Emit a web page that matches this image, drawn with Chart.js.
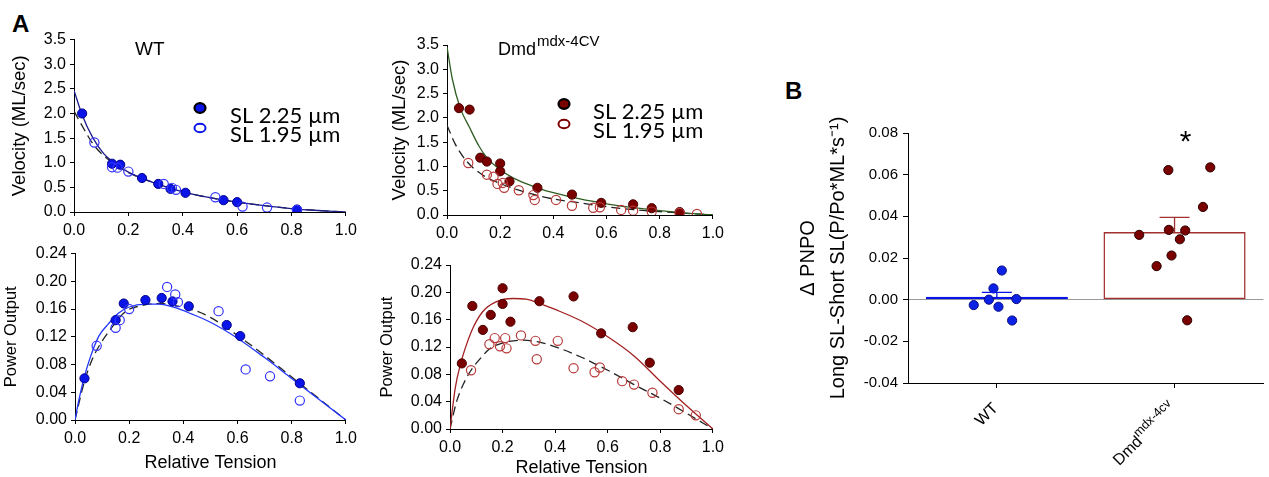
<!DOCTYPE html>
<html>
<head>
<meta charset="utf-8">
<script src="https://cdn.jsdelivr.net/npm/chart.js@4.4.1/dist/chart.umd.min.js"></script>
<style>
  html, body { margin: 0; padding: 0; background: #fff; }
  body { width: 1269px; height: 477px; position: relative; overflow: hidden; font-family: "Liberation Sans", Arial, sans-serif; color: #000; }
  .box { position: absolute; }
  .box canvas { display: block; }
  .panel { position: absolute; font-weight: bold; font-size: 24px; line-height: 1; }
</style>
</head>
<body>
<div class="panel" style="left:12px;top:12px">A</div>
<div class="panel" style="left:785px;top:79px">B</div>
<div class="box" id="b1" style="left:0;top:26px;width:362px;height:222px"><canvas id="c1"></canvas></div>
<div class="box" id="b2" style="left:0;top:240px;width:362px;height:237px"><canvas id="c2"></canvas></div>
<div class="box" id="b3" style="left:372px;top:30px;width:357px;height:218px"><canvas id="c3"></canvas></div>
<div class="box" id="b4" style="left:372px;top:250px;width:357px;height:227px"><canvas id="c4"></canvas></div>
<div class="box" id="b5" style="left:770px;top:110px;width:499px;height:367px"><canvas id="c5"></canvas></div>
<script>
// ---- WT: velocity vs relative tension ----
const wtVelLongT = [0.03, 0.14, 0.17, 0.25, 0.31, 0.355, 0.41, 0.55, 0.60, 0.82];
const wtVelLongV = [2.0, 0.98, 0.96, 0.69, 0.57, 0.47, 0.39, 0.24, 0.20, 0.05];
const wtVelShortT = [0.075, 0.14, 0.16, 0.20, 0.33, 0.36, 0.375, 0.52, 0.62, 0.71, 0.82];
const wtVelShortV = [1.41, 0.91, 0.90, 0.82, 0.57, 0.49, 0.45, 0.30, 0.11, 0.09, 0.04];
const wtVelFitLongT = [0, 0.03, 0.07, 0.11, 0.15, 0.2, 0.25, 0.3, 0.4, 0.5, 0.6, 0.7, 0.8, 0.9, 1.0];
const wtVelFitLongV = [2.47, 1.97, 1.5, 1.18, 0.99, 0.81, 0.69, 0.58, 0.41, 0.29, 0.2, 0.13, 0.07, 0.03, 0];
const wtVelFitShortT = [0, 0.035, 0.07, 0.11, 0.15, 0.2, 0.25, 0.3, 0.4, 0.5, 0.6, 0.7, 0.8, 0.9, 1.0];
const wtVelFitShortV = [2.05, 1.7, 1.38, 1.14, 0.97, 0.8, 0.68, 0.58, 0.41, 0.29, 0.2, 0.13, 0.07, 0.03, 0];

// ---- WT: power output ----
const wtPowLongT = [0.035, 0.15, 0.18, 0.26, 0.32, 0.36, 0.42, 0.56, 0.61, 0.83];
const wtPowLongP = [0.060, 0.144, 0.168, 0.173, 0.176, 0.171, 0.164, 0.137, 0.121, 0.053];
const wtPowShortT = [0.08, 0.15, 0.165, 0.20, 0.34, 0.37, 0.38, 0.53, 0.63, 0.72, 0.83];
const wtPowShortP = [0.107, 0.133, 0.144, 0.160, 0.192, 0.181, 0.170, 0.157, 0.073, 0.063, 0.028];
const wtPowFitLongT = [0, 0.015, 0.033, 0.057, 0.088, 0.124, 0.16, 0.2, 0.26, 0.31, 0.37, 0.43, 0.5, 0.6, 0.7, 0.8, 0.9, 1.0];
const wtPowFitLongP = [0, 0.03, 0.06, 0.091, 0.121, 0.139, 0.154, 0.163, 0.167, 0.167, 0.162, 0.153, 0.141, 0.118, 0.09, 0.06, 0.03, 0];
const wtPowFitShortT = [0, 0.033, 0.063, 0.094, 0.137, 0.185, 0.246, 0.31, 0.37, 0.45, 0.5, 0.6, 0.7, 0.8, 0.9, 1.0];
const wtPowFitShortP = [0, 0.053, 0.087, 0.11, 0.134, 0.156, 0.165, 0.168, 0.165, 0.157, 0.148, 0.122, 0.093, 0.062, 0.031, 0];

// ---- Dmd mdx-4CV: velocity ----
const dmdVelLongT = [0.045, 0.085, 0.125, 0.15, 0.2, 0.2, 0.235, 0.34, 0.47, 0.58, 0.70, 0.77, 0.875];
const dmdVelLongV = [2.2, 2.17, 1.18, 1.1, 1.06, 0.9, 0.69, 0.56, 0.42, 0.25, 0.22, 0.14, 0.06];
const dmdVelShortT = [0.08, 0.15, 0.175, 0.19, 0.21, 0.215, 0.27, 0.325, 0.33, 0.41, 0.47, 0.55, 0.575, 0.655, 0.70, 0.77, 0.875, 0.94];
const dmdVelShortV = [1.07, 0.83, 0.79, 0.64, 0.66, 0.56, 0.51, 0.41, 0.31, 0.31, 0.19, 0.15, 0.16, 0.105, 0.09, 0.07, 0.04, 0.02];
const dmdVelFitLongT = [0, 0.02, 0.05, 0.085, 0.12, 0.15, 0.2, 0.25, 0.3, 0.35, 0.4, 0.5, 0.6, 0.7, 0.8, 0.9, 1.0];
const dmdVelFitLongV = [3.46, 2.8, 2.2, 1.8, 1.42, 1.18, 0.93, 0.76, 0.64, 0.54, 0.46, 0.33, 0.23, 0.15, 0.09, 0.04, 0];
const dmdVelFitShortT = [0, 0.03, 0.075, 0.135, 0.2, 0.27, 0.35, 0.41, 0.5, 0.6, 0.7, 0.8, 0.9, 1.0];
const dmdVelFitShortV = [1.85, 1.47, 1.1, 0.82, 0.65, 0.51, 0.39, 0.32, 0.25, 0.17, 0.11, 0.07, 0.035, 0];

// ---- Dmd mdx-4CV: power output ----
const dmdPowLongT = [0.045, 0.085, 0.125, 0.155, 0.2, 0.2, 0.23, 0.34, 0.47, 0.575, 0.695, 0.76, 0.87];
const dmdPowLongP = [0.096, 0.180, 0.145, 0.167, 0.206, 0.183, 0.157, 0.187, 0.194, 0.140, 0.149, 0.097, 0.057];
const dmdPowShortT = [0.08, 0.15, 0.17, 0.19, 0.21, 0.215, 0.27, 0.325, 0.33, 0.41, 0.47, 0.55, 0.57, 0.655, 0.70, 0.77, 0.87, 0.935];
const dmdPowShortP = [0.086, 0.124, 0.133, 0.121, 0.133, 0.118, 0.137, 0.129, 0.102, 0.129, 0.089, 0.083, 0.090, 0.070, 0.065, 0.053, 0.029, 0.020];
const dmdPowFitLongT = [0, 0.02, 0.04, 0.065, 0.09, 0.125, 0.175, 0.24, 0.29, 0.34, 0.4, 0.5, 0.6, 0.7, 0.8, 0.9, 1.0];
const dmdPowFitLongP = [0, 0.06, 0.095, 0.126, 0.15, 0.172, 0.186, 0.191, 0.19, 0.184, 0.175, 0.158, 0.135, 0.107, 0.07, 0.034, 0];
const dmdPowFitShortT = [0, 0.025, 0.055, 0.08, 0.115, 0.15, 0.21, 0.28, 0.34, 0.41, 0.5, 0.6, 0.7, 0.8, 0.9, 1.0];
const dmdPowFitShortP = [0, 0.04, 0.069, 0.086, 0.103, 0.117, 0.127, 0.13, 0.127, 0.119, 0.105, 0.086, 0.065, 0.045, 0.023, 0];

// ---- B: delta PNPO (group position 0 = WT, 1 = Dmd) ----
const groups = ["WT", "Dmd"];
const groupPos = [0, 1];
const meanPNPO = [0.0005, 0.0325];
const semPNPO = [0.003, 0.007];
const wtJitter = [0.028, -0.019, -0.045, 0.110, -0.130, 0.009, 0.086];
const wtDelta = [0.014, 0.0054, 0.0, 0.0003, -0.0026, -0.0034, -0.010];
const dmdJitter = [-0.035, 0.201, 0.160, -0.199, -0.032, 0.060, 0.030, -0.017, -0.101, 0.071];
const dmdDelta = [0.0622, 0.0635, 0.0445, 0.0311, 0.0335, 0.0332, 0.029, 0.0212, 0.0161, -0.0099];

const FONT = '"Liberation Sans", Arial, sans-serif';
const BLUE = "#0a14e8";
const MAROON = "#7a0000";

Chart.defaults.font.family = FONT;
Chart.defaults.color = "#000";
Chart.defaults.animation = false;

const pts = (xs, ys) => xs.map((x, i) => ({ x, y: ys[i] }));

function dots(xs, ys, fill, stroke, width) {
  return {
    data: pts(xs, ys),
    pointRadius: 4.6,
    pointBackgroundColor: fill,
    pointBorderColor: stroke,
    pointBorderWidth: width,
    showLine: false,
  };
}

function curve(xs, ys, color, dashed, width) {
  return {
    data: pts(xs, ys),
    showLine: true,
    borderColor: color,
    borderWidth: width || 1.3,
    borderDash: dashed ? [9, 5] : [],
    pointRadius: 0,
    cubicInterpolationMode: "monotone",
  };
}

function overlay(draw) {
  return {
    id: "overlay",
    afterDraw(chart) {
      const g = chart.ctx;
      g.save();
      draw(g, chart);
      g.restore();
    },
  };
}

// legend: two marker rows with text, coords relative to canvas
function drawLegend(g, x, y, color, textX) {
  g.lineWidth = 2.2;
  g.fillStyle = color;
  g.strokeStyle = "#000";
  g.beginPath();
  g.ellipse(x, y, 5.5, 4.8, 0, 0, Math.PI * 2);
  g.fill();
  g.stroke();
  g.strokeStyle = color;
  g.lineWidth = 2;
  g.beginPath();
  g.ellipse(x, y + 20, 5.5, 4.3, 0, 0, Math.PI * 2);
  g.stroke();
  g.fillStyle = "#000";
  g.font = '22px Lato, "Liberation Sans", sans-serif';
  g.textAlign = "left";
  g.textBaseline = "alphabetic";
  g.fillText("SL 2.25 \u00b5m", textX, y + 15);
  g.fillText("SL 1.95 \u00b5m", textX, y + 34);
}

function scaleOpts(o) {
  return {
    x: {
      type: "linear",
      min: 0, max: 1,
      ticks: { stepSize: 0.2, font: { size: 16 }, padding: o.xPad, callback: (v) => v.toFixed(1) },
      grid: { drawOnChartArea: false, tickLength: 4, color: "#000" },
      border: { color: "#000" },
      title: o.xTitle ? { display: true, text: o.xTitle, font: { size: 18, lineHeight: 1 }, padding: { top: 0, bottom: o.xTitlePad } } : { display: false },
      afterFit: (s) => { s.height = o.xHeight; },
    },
    y: {
      type: "linear",
      min: o.yMin, max: o.yMax,
      ticks: { stepSize: o.yStep, font: { size: 16 }, padding: 4, callback: (v) => v.toFixed(o.yDigits) },
      grid: { drawOnChartArea: false, tickLength: 4, color: "#000" },
      border: { color: "#000" },
      title: { display: true, text: o.yTitle, font: { size: o.yTitleSize }, padding: { top: o.yTitlePad, bottom: 0 } },
      afterFit: (s) => { s.width = o.yWidth; },
    },
  };
}

function makePanel(id, datasets, o, plugins) {
  return new Chart(document.getElementById(id), {
    type: "scatter",
    data: { datasets },
    options: {
      responsive: true,
      maintainAspectRatio: false,
      layout: { padding: o.pad },
      plugins: { legend: { display: false }, tooltip: { enabled: false } },
      scales: scaleOpts(o),
    },
    plugins: plugins || [],
  });
}

// ---- A, WT velocity ----
makePanel("c1", [
  dots(wtVelShortT, wtVelShortV, "rgba(0,0,0,0)", "#3333ff", 1.2),
  dots(wtVelLongT, wtVelLongV, BLUE, "#00008a", 1),
  curve(wtVelFitLongT, wtVelFitLongV, "#1c1c8c"),
  curve(wtVelFitShortT, wtVelFitShortV, "#222", true),
], {
  yMin: 0, yMax: 3.5, yStep: 0.5, yDigits: 1, yTitle: "Velocity (ML/sec)", yTitleSize: 18.5, yTitlePad: 9,
  yWidth: 74, xHeight: 36, xPad: 5, pad: { left: 0, top: 12, right: 13, bottom: 0 },
}, [overlay((g, chart) => {
  g.fillStyle = "#000";
  g.font = '19px ' + FONT;
  g.fillText("WT", 135, 29);
  drawLegend(g, 200, 82, BLUE, 230);
})]);

// ---- A, WT power ----
makePanel("c2", [
  dots(wtPowShortT, wtPowShortP, "rgba(0,0,0,0)", "#3333ff", 1.2),
  dots(wtPowLongT, wtPowLongP, BLUE, "#00008a", 1),
  curve(wtPowFitLongT, wtPowFitLongP, "#2236ff"),
  curve(wtPowFitShortT, wtPowFitShortP, "#222", true),
], {
  yMin: 0, yMax: 0.24, yStep: 0.04, yDigits: 2, yTitle: "Power Output", yTitleSize: 16.5, yTitlePad: 2,
  yWidth: 75, xHeight: 57, xPad: 5, xTitle: "Relative Tension", xTitlePad: 5, pad: { left: 0, top: 12, right: 13, bottom: 0 },
});

// ---- A, Dmd velocity ----
makePanel("c3", [
  dots(dmdVelShortT, dmdVelShortV, "rgba(0,0,0,0)", "#b83a3a", 1.2),
  dots(dmdVelLongT, dmdVelLongV, MAROON, "#4a0000", 1),
  curve(dmdVelFitLongT, dmdVelFitLongV, "#2f5e22"),
  curve(dmdVelFitShortT, dmdVelFitShortV, "#222", true),
], {
  yMin: 0, yMax: 3.5, yStep: 0.5, yDigits: 1, yTitle: "Velocity (ML/sec)", yTitleSize: 18.5, yTitlePad: 17,
  yWidth: 75, xHeight: 33, xPad: 5, pad: { left: 0, top: 15, right: 15, bottom: 0 },
}, [overlay((g, chart) => {
  g.fillStyle = "#000";
  g.textAlign = "left";
  g.font = '18px ' + FONT;
  g.fillText("Dmd", 126, 25);
  const w = g.measureText("Dmd").width;
  g.font = '15px ' + FONT;
  g.fillText("mdx-4CV", 126 + w + 1, 16);
  drawLegend(g, 192, 74, MAROON, 221);
})]);

// ---- A, Dmd power ----
makePanel("c4", [
  dots(dmdPowShortT, dmdPowShortP, "rgba(0,0,0,0)", "#b83a3a", 1.2),
  dots(dmdPowLongT, dmdPowLongP, MAROON, "#4a0000", 1),
  curve(dmdPowFitLongT, dmdPowFitLongP, "#a32020"),
  curve(dmdPowFitShortT, dmdPowFitShortP, "#222", true),
], {
  yMin: 0, yMax: 0.24, yStep: 0.04, yDigits: 2, yTitle: "Power Output", yTitleSize: 16.5, yTitlePad: 6,
  yWidth: 78, xHeight: 48, xPad: 5, xTitle: "Relative Tension", xTitlePad: 0, pad: { left: 0, top: 15, right: 15, bottom: 0 },
});

// ---- B, bar + individual points ----
const errorBars = {
  id: "errorBars",
  afterDatasetsDraw(chart) {
    const g = chart.ctx;
    const x = chart.scales.x;
    const y = chart.scales.y;
    g.save();
    groupPos.forEach((gp, i) => {
      const px = x.getPixelForValue(gp);
      const top = y.getPixelForValue(meanPNPO[i] + semPNPO[i]);
      const base = y.getPixelForValue(meanPNPO[i]);
      g.strokeStyle = i === 0 ? BLUE : "#a33030";
      g.lineWidth = 1.3;
      g.beginPath();
      g.moveTo(px, base);
      g.lineTo(px, top);
      g.moveTo(px - 15, top);
      g.lineTo(px + 15, top);
      g.stroke();
    });
    g.restore();
  },
};

const bLabels = overlay((g, chart) => {
  const x = chart.scales.x;
  const y = chart.scales.y;
  g.fillStyle = "#000";
  // significance star
  g.font = "30px " + FONT;
  g.textAlign = "center";
  g.textBaseline = "alphabetic";
  g.fillText("*", x.getPixelForValue(groupPos[1]) + 11, y.getPixelForValue(0.08) + 18);
  // rotated group labels
  g.textAlign = "right";
  groups.forEach((name, i) => {
    const px = x.getPixelForValue(groupPos[i]);
    g.save();
    g.translate(px + 2, x.top + 26);
    g.rotate(-Math.PI / 4);
    if (i === 0) {
      g.font = "16px " + FONT;
      g.fillText(name, 0, 0);
    } else {
      g.font = "12.5px " + FONT;
      g.fillText("mdx-4cv", 0, -7);
      const w = g.measureText("mdx-4cv").width;
      g.font = "16px " + FONT;
      g.fillText(name, -w, 0);
    }
    g.restore();
  });
});

new Chart(document.getElementById("c5"), {
  type: "bar",
  data: {
    datasets: [
      {
        type: "scatter",
        data: pts(wtJitter.map((d) => groupPos[0] + d), wtDelta),
        pointRadius: 4.6,
        pointBackgroundColor: "#0b22e6",
        pointBorderColor: "#0a0a80",
        pointBorderWidth: 1,
      },
      {
        type: "scatter",
        data: pts(dmdJitter.map((d) => groupPos[1] + d), dmdDelta),
        pointRadius: 4.6,
        pointBackgroundColor: MAROON,
        pointBorderColor: "#2a0000",
        pointBorderWidth: 1,
      },
      {
        type: "bar",
        data: pts(groupPos, meanPNPO),
        backgroundColor: [BLUE, "rgba(255,255,255,0)"],
        borderColor: [BLUE, "#a33030"],
        borderWidth: 1.5,
        borderSkipped: false,
        minBarLength: 3,
        grouped: false,
        barPercentage: 0.8,
        categoryPercentage: 1.0,
      },
    ],
  },
  options: {
    responsive: true,
    maintainAspectRatio: false,
    layout: { padding: { left: 0, top: 23, right: 2, bottom: 0 } },
    plugins: { legend: { display: false }, tooltip: { enabled: false } },
    scales: {
      x: {
        type: "linear",
        min: -0.5, max: 1.5,
        offset: false,
        grace: 0,
        afterBuildTicks: (s) => { s.ticks = groupPos.map((v) => ({ value: v })); },
        ticks: { display: false },
        grid: { offset: false, drawOnChartArea: false, tickLength: 5, color: "#000" },
        border: { color: "#000" },
        afterFit: (s) => { s.height = 94; },
      },
      y: {
        min: -0.04, max: 0.08,
        ticks: { stepSize: 0.02, font: { size: 15 }, padding: 5, callback: (v) => v.toFixed(2) },
        grid: {
          tickLength: 5,
          tickColor: "#000",
          color: (ctx) => (ctx.tick && Math.abs(ctx.tick.value) < 1e-9 ? "#999" : "rgba(0,0,0,0)"),
        },
        border: { color: "#000" },
        title: {
          display: true,
          text: ["\u0394 PNPO", "Long SL-Short SL(P/Po*ML*s\u207b\u00b9)"],
          font: { size: 20, lineHeight: 1.5 },
          padding: { top: 23, bottom: 0 },
        },
        afterFit: (s) => { s.width = 138; },
      },
    },
  },
  plugins: [errorBars, bLabels],
});
</script>
</body>
</html>
